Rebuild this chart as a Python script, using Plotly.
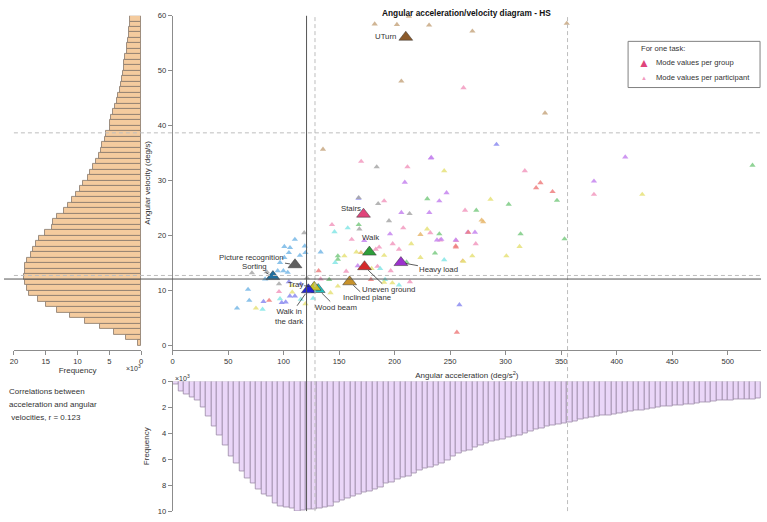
import plotly.graph_objects as go

W, H = 767, 522

# ---------------- data ----------------
tasks = ["UTurn", "Stairs", "Walk", "Heavy load", "Uneven ground", "Inclined plane",
         "Wood beam", "Tray", "Walk in the dark", "Picture recognition", "Sorting"]
group_acc = [210.0, 171.9, 177.2, 205.6, 172.8, 159.4, 131.1, 127.5, 122.2, 110.2, 90.3]
group_vel = [56.1, 23.9, 17.0, 15.1, 14.35, 11.6, 10.2, 10.6, 10.15, 14.7, 12.55]

part_task = (
    ["UTurn"] * 9
    + ["Stairs"] * 24
    + ["Uneven ground"] * 10
    + ["Walk"] * 14
    + ["Heavy load"] * 19
    + ["Walk in the dark"] * 10
    + ["Inclined plane"] * 5
    + ["Tray"] * 22
    + ["Wood beam"] * 11
    + ["Picture recognition"] * 11
    + ["Sorting"] * 17
)
part_acc = [
    # UTurn
    182, 202, 212.8, 231, 206, 135.4, 335.4, 355, 270,
    # Stairs
    262, 169.8, 211.5, 317.2, 379.5, 263.4, 241, 273, 190.5, 207.7, 232.1, 161.3,
    255.4, 198.2, 186, 203.9, 183, 184.5, 196.4, 156.3, 213.7, 95.8, 133.3, 143.5,
    # Uneven ground
    266.3, 255, 331.3, 327.4, 342.2, 86.9, 178.6, 131.5, 255.1, 256,
    # Walk
    522.3, 346.2, 302.7, 273.5, 240.2, 313.4, 353, 236.3, 229.4, 167.6, 148.8, 210.7,
    148.8, 141,
    # Heavy load
    415, 416, 407.7, 233, 379.5, 246.7, 240.2, 272.3, 238.1, 255, 209.1, 232.6, 206,
    231.2, 195.8, 265.8, 172.6, 242, 166.7,
    # Walk in the dark
    291.7, 104.7, 115.4, 81.8, 98.2, 101.8, 105.6, 110.1, 167.4, 258.3,
    # Inclined plane
    278.3, 279.7, 223.2, 169.6, 261.3,
    # Tray
    244.6, 423, 286.3, 312.5, 261.9, 269.9, 300.6, 229.2, 214.9, 165.5, 190.5, 223.2,
    154.7, 179.2, 148.8, 190.5, 197.9, 107.7, 75, 107.7, 119.6, 142.2,
    # Wood beam
    244.6, 157.7, 145.8, 186.9, 191.3, 203.9, 81, 96.7, 115.4, 126.5, 146.4,
    # Picture recognition
    183.8, 185.1, 167.6, 213.4, 194.9, 168.2, 118.5, 71.4, 84.8, 95.8, 121,
    # Sorting
    110.1, 100.6, 105.7, 119, 104.7, 114.6, 119.6, 100.6, 96.7, 94.6, 99.7, 103.6,
    83.3, 67.9, 69, 58, 133.3,
]
part_vel = [
    # UTurn
    58.5, 58.4, 59.9, 58.3, 48.1, 35.7, 42.3, 58.6, 57.2,
    # Stairs
    46.9, 33.5, 32.5, 31.8, 27.5, 24.6, 19.2, 18.5, 26.3, 21.4, 20.5, 19.3,
    19.1, 18.5, 17.9, 17.5, 17.5, 14.4, 13.6, 13.5, 11.6, 9.8, 12.1, 22.0,
    # Uneven ground
    20.6, 18.1, 29.6, 28.7, 28.0, 8.2, 12.0, 13.6, 17.9, 2.4,
    # Walk
    32.8, 26.4, 25.7, 24.6, 20.3, 20.3, 19.4, 16.8, 26.7, 22.0, 15.7, 15.2,
    16.3, 12.0,
    # Heavy load
    50.1, 48.7, 34.3, 34.2, 29.9, 27.8, 26.3, 20.6, 19.2, 19.2, 29.7, 34.1, 24.2,
    24.2, 20.3, 20.6, 19.1, 19.3, 14.5,
    # Walk in the dark
    36.6, 11.6, 11.2, 8.0, 7.8, 7.9, 9.0, 9.0, 26.8, 7.4,
    # Inclined plane
    22.8, 22.5, 20.2, 16.9, 15.4,
    # Tray
    31.8, 27.5, 26.6, 18.0, 15.3, 16.3, 16.3, 21.2, 18.5, 17.0, 16.4, 16.0,
    16.3, 14.0, 10.8, 11.5, 11.4, 10.9, 6.8, 9.7, 7.6, 9.6,
    # Wood beam
    15.6, 21.4, 20.7, 14.0, 12.0, 11.0, 6.6, 8.5, 8.4, 8.6, 15.1,
    # Picture recognition
    32.5, 25.8, 26.9, 24.0, 22.7, 21.2, 20.5, 13.2, 13.4, 11.2, 12.3,
    # Sorting
    19.3, 18.0, 17.8, 18.1, 16.9, 16.4, 16.9, 16.0, 15.1, 13.6, 13.6, 13.3,
    12.1, 10.2, 8.2, 6.8, 17.0,
]

# velocity histogram, bins of 1 deg/s from 0 to 60 (counts x 10^3)
vel_hist_counts = [
    0.5, 2.4, 4.3, 6.5, 8.8, 11.2, 13.2, 14.9, 16.2, 17.7,
    18.0, 18.2, 18.4, 18.3, 18.2, 18.0, 17.3, 17.0, 16.5, 16.0,
    15.2, 14.0, 13.8, 13.2, 12.1, 11.5, 10.9, 10.2, 9.6, 9.1,
    8.4, 8.0, 7.6, 7.1, 6.6, 6.4, 6.1, 5.7, 5.5, 4.9,
    4.9, 4.8, 4.4, 4.1, 3.8, 3.6, 3.4, 3.2, 3.0, 2.9,
    2.75, 2.7, 2.5, 2.3, 2.3, 2.1, 2.0, 1.9, 1.8, 1.7,
]
vel_bin_start, vel_bin_width = 0, 1

# acceleration histogram, bins of 5 deg/s^2 from 0 to 530 (counts x 10^3)
acc_hist_counts = [
    0.2, 0.8, 1.0, 1.25, 1.5, 2.0, 2.7, 3.5, 4.2, 4.9,
    5.8, 6.3, 6.9, 7.5, 7.9, 8.3, 8.7, 8.9, 9.4, 9.6,
    9.7, 9.8, 10.0, 9.95, 9.9, 9.9, 9.8, 9.7, 9.6, 9.3,
    9.15, 9.05, 8.9, 8.7, 8.55, 8.5, 8.3, 8.2, 7.9, 7.75,
    7.55, 7.4, 7.3, 7.1, 6.85, 6.7, 6.6, 6.5, 6.3, 6.1,
    5.75, 5.55, 5.4, 5.3, 5.1, 4.95, 4.8, 4.65, 4.55, 4.45,
    4.35, 4.25, 4.15, 4.0, 3.85, 3.7, 3.6, 3.5, 3.4, 3.3,
    3.2, 3.15, 3.05, 2.95, 2.85, 2.75, 2.7, 2.65, 2.6, 2.55,
    2.45, 2.4, 2.35, 2.25, 2.2, 2.15, 2.1, 2.0, 1.95, 1.9,
    1.85, 1.85, 1.8, 1.75, 1.7, 1.65, 1.6, 1.55, 1.5, 1.45,
    1.45, 1.4, 1.37, 1.37, 1.35, 1.32,
]
acc_bin_start, acc_bin_width = 0, 5

acc_median, acc_mean, acc_high = 120.6, 128.2, 355.7
vel_median, vel_mean, vel_high = 12.1, 12.75, 38.7
correlation_r = 0.123

legend_title = "For one task:"
legend_labels = ["Mode values per group", "Mode values per participant"]

# ---------------- styles ----------------
task_colors = {
    "UTurn": "#8B5A2B", "Stairs": "#E0457B", "Walk": "#2E9E3A", "Heavy load": "#9B32CC",
    "Uneven ground": "#D42A2A", "Inclined plane": "#C8922A", "Wood beam": "#22C4C4",
    "Tray": "#C8C22A", "Walk in the dark": "#2626D0", "Picture recognition": "#606060",
    "Sorting": "#1F6F9F",
}
light_colors = {
    "UTurn": "#C8A882", "Stairs": "#F29AC0", "Walk": "#7CCB84", "Heavy load": "#C585EE",
    "Uneven ground": "#EE8080", "Inclined plane": "#E8B870", "Wood beam": "#86E6E6",
    "Tray": "#E6E27A", "Walk in the dark": "#8C8CF0", "Picture recognition": "#A8A8A8",
    "Sorting": "#78B8E6",
}
# label placement: (mode, dx, dy) in pixels
label_style = {
    "UTurn": ("text", -20, 1), "Stairs": ("text", -13, 6), "Walk": ("text", 1, 15),
    "Heavy load": ("arrow", 38, 7), "Uneven ground": ("arrow", 24, 23),
    "Inclined plane": ("arrow", 17, 16), "Wood beam": ("arrow", 18, 18),
    "Tray": ("arrow", -19, -3), "Walk in the dark": ("arrow", -19, 27),
    "Picture recognition": ("arrow", -44, -7), "Sorting": ("arrow", -18, -10),
}
label_text = {"Walk in the dark": "Walk in<br>the dark"}

FONT = "Liberation Sans, Arial, sans-serif"
TXT = "#333333"
AX = "#8c8c8c"


def px(xp):
    return xp / W


def py(yp):
    return 1 - yp / H


fig = go.Figure()

# histograms
fig.add_trace(go.Bar(
    x=vel_hist_counts, y0=vel_bin_start + vel_bin_width / 2, dy=vel_bin_width,
    width=vel_bin_width, orientation="h", xaxis="x2", yaxis="y",
    marker=dict(color="#F4CB9E", line=dict(color="#85766a", width=0.8)),
    showlegend=False, hoverinfo="skip"))
fig.add_trace(go.Bar(
    y=acc_hist_counts, x0=acc_bin_start + acc_bin_width / 2, dx=acc_bin_width,
    width=acc_bin_width, xaxis="x", yaxis="y2",
    marker=dict(color="#EAD6F8", line=dict(color="#9a8aa6", width=0.8)),
    showlegend=False, hoverinfo="skip"))

# participant points
for t in tasks:
    xs = [a for a, k in zip(part_acc, part_task) if k == t]
    ys = [v for v, k in zip(part_vel, part_task) if k == t]
    fig.add_trace(go.Scatter(
        x=xs, y=ys, mode="markers", xaxis="x", yaxis="y",
        marker=dict(symbol="triangle-up", size=5.5, color=light_colors[t], opacity=0.85,
                    line=dict(width=0)),
        showlegend=False, hoverinfo="skip"))

# group mode values
for t, a, v in zip(tasks, group_acc, group_vel):
    fig.add_trace(go.Scatter(
        x=[a], y=[v], mode="markers", xaxis="x", yaxis="y",
        marker=dict(symbol="triangle-up", size=12, color=task_colors[t],
                    line=dict(color="#333333", width=0.5)),
        showlegend=False, name=t))

annotations = []
for t, a, v in zip(tasks, group_acc, group_vel):
    mode, dx, dy = label_style[t]
    txt = label_text.get(t, t)
    if mode == "text":
        annotations.append(dict(x=a, y=v, xref="x", yref="y", text=txt, showarrow=False,
                                xshift=dx, yshift=dy, font=dict(size=7.8, color=TXT)))
    else:
        annotations.append(dict(x=a, y=v, xref="x", yref="y", text=txt, showarrow=True,
                                arrowhead=0, arrowwidth=0.8, arrowcolor="#333333",
                                ax=dx, ay=dy, standoff=5,
                                font=dict(size=7.8, color=TXT)))

annotations += [
    dict(x=px(466), y=py(9), xref="paper", yref="paper",
         text="<b>Angular acceleration/velocity diagram - HS</b>", showarrow=False,
         xanchor="center", yanchor="middle",
         font=dict(size=8.3, color="#111111")),
    dict(x=px(140), y=py(370), xref="paper", yref="paper", text="×10<sup>3</sup>",
         showarrow=False, xanchor="right", yanchor="middle", font=dict(size=7, color=TXT)),
    dict(x=px(170), y=py(381), xref="paper", yref="paper", text="×10<sup>3</sup>",
         showarrow=False, xanchor="left", yanchor="middle", font=dict(size=7, color=TXT)),
]
corr_lines = ["Correlations between", "acceleration and angular",
              f" velocities, r = {correlation_r}"]
for i, line in enumerate(corr_lines):
    annotations.append(dict(x=px(3), y=py(394 + 13.3 * i), xref="paper", yref="paper",
                            text=line, showarrow=False, xanchor="left", yanchor="middle",
                            font=dict(size=8, color=TXT)))

# manual legend
annotations.append(dict(x=px(640), y=py(45.5), xref="paper", yref="paper", text=legend_title,
                        showarrow=False, xanchor="left", yanchor="middle",
                        font=dict(size=7.6, color=TXT)))
annotations.append(dict(x=px(645), y=py(60), xref="paper", yref="paper", text="▲",
                        showarrow=False, xanchor="center", yanchor="middle",
                        font=dict(size=12, color=task_colors["Stairs"])))
annotations.append(dict(x=px(645), y=py(75), xref="paper", yref="paper", text="▲",
                        showarrow=False, xanchor="center", yanchor="middle",
                        font=dict(size=6, color=light_colors["Stairs"])))
for i, lab in enumerate(legend_labels):
    annotations.append(dict(x=px(655), y=py(59.5 + 15 * i), xref="paper", yref="paper",
                            text=lab, showarrow=False, xanchor="left", yanchor="middle",
                            font=dict(size=7.6, color=TXT)))

shapes = [dict(type="rect", xref="paper", yref="paper", x0=px(629), x1=px(762),
               y0=py(85), y1=py(38), line=dict(color="#808080", width=1),
               fillcolor="white", layer="above")]
ytop, ybot = py(12), py(516)
shapes.append(dict(type="line", xref="x", yref="paper", x0=acc_median, x1=acc_median,
                   y0=ybot, y1=ytop, line=dict(color="#555555", width=1), layer="above"))
for xv in (acc_mean, acc_high):
    shapes.append(dict(type="line", xref="x", yref="paper", x0=xv, x1=xv, y0=ybot, y1=ytop,
                       line=dict(color="#bdbdbd", width=1, dash="4px,3px"), layer="above"))
shapes.append(dict(type="line", xref="paper", yref="y", x0=0, x1=px(763),
                   y0=vel_median, y1=vel_median, line=dict(color="#555555", width=1),
                   layer="above"))
for yv in (vel_mean, vel_high):
    shapes.append(dict(type="line", xref="paper", yref="y", x0=px(10), x1=px(763),
                       y0=yv, y1=yv, line=dict(color="#bdbdbd", width=1, dash="4px,3px"),
                       layer="above"))

axis_common = dict(showline=True, linecolor=AX, linewidth=1, ticks="outside", ticklen=4,
                   tickcolor=AX, showgrid=False, zeroline=False,
                   tickfont=dict(size=7.6, color=TXT, family=FONT))

fig.update_layout(
    width=W, height=H, margin=dict(l=0, r=0, t=0, b=0),
    paper_bgcolor="white", plot_bgcolor="rgba(0,0,0,0)",
    font=dict(family=FONT, size=8, color=TXT),
    bargap=0, showlegend=False,
    xaxis=dict(domain=[px(170), px(763)], range=[0, 530], anchor="y",
               tickvals=[0, 50, 100, 150, 200, 250, 300, 350, 400, 450, 500],
               title=dict(text="Angular acceleration (deg/s<sup>2</sup>)",
                          font=dict(size=8, color=TXT), standoff=7),
               **axis_common),
    yaxis=dict(domain=[py(352), py(12)], range=[-0.8, 60], anchor="x",
               tickvals=[0, 10, 20, 30, 40, 50, 60],
               title=dict(text="Angular velocity (deg/s)", font=dict(size=8, color=TXT),
                          standoff=5),
               **axis_common),
    xaxis2=dict(domain=[px(10), px(138.3)], range=[20, 0], anchor="y",
                tickvals=[0, 5, 10, 15, 20],
                title=dict(text="Frequency", font=dict(size=8, color=TXT), standoff=2),
                **axis_common),
    yaxis2=dict(domain=[py(516), py(384)], range=[10, 0], anchor="x",
                tickvals=[0, 2, 4, 6, 8, 10],
                title=dict(text="Frequency", font=dict(size=8, color=TXT), standoff=6),
                **axis_common),
    annotations=annotations,
    shapes=shapes,
)

fig.write_html("out.html")
